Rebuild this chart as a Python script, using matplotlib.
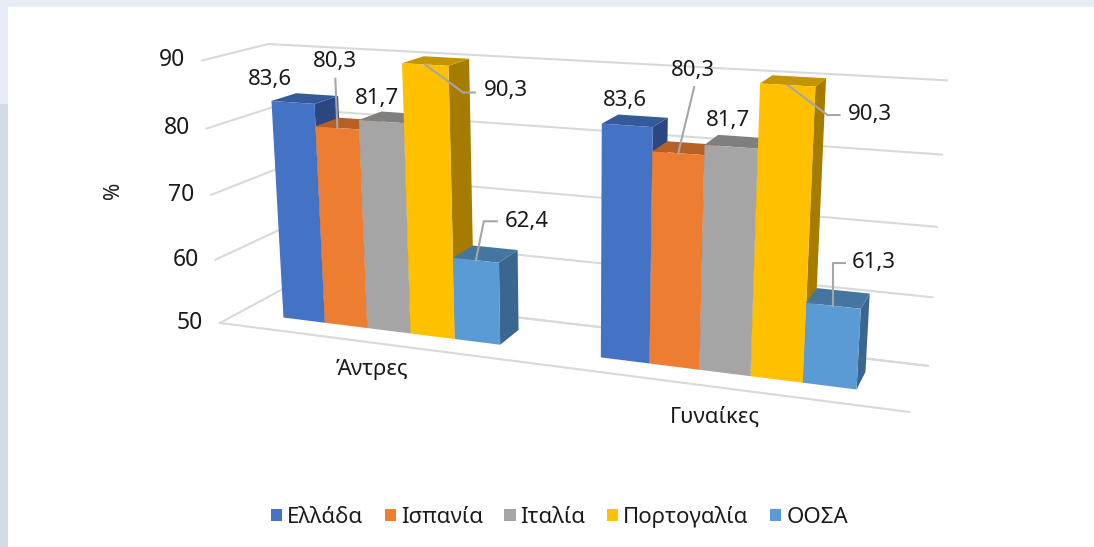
import matplotlib
matplotlib.use('Agg')
import matplotlib.pyplot as plt
from matplotlib.patches import Patch, Polygon, Rectangle
import numpy as np

plt.rcParams['font.family'] = ['Noto Sans', 'DejaVu Sans']

categories = ['Άντρες', 'Γυναίκες']
series_names = ['Ελλάδα', 'Ισπανία', 'Ιταλία', 'Πορτογαλία', 'ΟΟΣΑ']
men_values = [83.6, 80.3, 81.7, 90.3, 62.4]
women_values = [83.6, 80.3, 81.7, 90.3, 61.3]
y_ticks = [50, 60, 70, 80, 90]

front_colors = ['#4472C4', '#ED7D31', '#A5A5A5', '#FFC000', '#5B9BD5']
top_colors = ['#355A9A', '#B85F24', '#7F7F7F', '#C49500', '#44769F']
side_colors = ['#2B4680', '#A0521F', '#6E6E6E', '#A67C00', '#3A6690']
text_color = '#1A1A1A'
grid_color = '#D9D9D9'
leader_color = '#A6A6A6'

# camera fit: (along axis, depth, value) -> pixel in the 1094x547 image
camera_world = [(0, 0, 50), (0, 0, 60), (0, 0, 70), (0, 0, 80), (0, 0, 90),
                (0, 1, 50), (0, 1, 90),
                (1, 1, 50), (1, 1, 60), (1, 1, 70), (1, 1, 80), (1, 1, 90),
                (1, 0, 50),
                (0.075, 0.31, 50), (0.075, 0.31, 83.6),
                (0.925, 0.31, 50), (0.425, 0.31, 50),
                (0.575, 0.31, 83.6), (0.285, 0.31, 90.3), (0.785, 0.31, 90.3),
                (0.355, 0.31, 90.3), (0.855, 0.31, 90.3),
                (0.355, 0.31, 62.4), (0.425, 0.31, 62.4)]
camera_pixels = [(220, 323), (216, 260), (211, 194), (207, 128), (202, 59),
                 (283, 291), (268, 43),
                 (928, 366), (932, 297), (937, 227), (942, 154), (947, 79),
                 (911, 412),
                 (283, 318), (272, 101),
                 (856, 389), (499, 344),
                 (603, 123), (402, 65), (760, 85),
                 (448, 67), (815, 88),
                 (453, 258), (498, 262)]


def fit_camera(world, pixels):
    rows = []
    for (u, v, val), (px, py) in zip(world, pixels):
        w = (val - 50) / 40
        x, y = px / 1000, py / 1000
        rows.append([u, v, w, 1, 0, 0, 0, 0, -x * u, -x * v, -x * w, -x])
        rows.append([0, 0, 0, 0, u, v, w, 1, -y * u, -y * v, -y * w, -y])
    vt = np.linalg.svd(np.array(rows))[2]
    return vt[-1].reshape(3, 4)


camera = fit_camera(camera_world, camera_pixels)


def project(u, v, val):
    p = camera @ np.array([u, v, (val - 50) / 40, 1])
    return p[0] / p[2] * 1000, p[1] / p[2] * 1000


fig = plt.figure(figsize=(10.94, 5.47), dpi=100, facecolor='white')
ax = fig.add_axes([0, 0, 1, 1])
ax.set_xlim(0, 1094)
ax.set_ylim(547, 0)
ax.axis('off')

# page strips behind the chart
ax.add_patch(Rectangle((0, 0), 1094, 7, color='#E8EDF5', lw=0))
ax.add_patch(Rectangle((0, 0), 8, 104, color='#E8EDF5', lw=0))
ax.add_patch(Rectangle((0, 104), 8, 443, color='#D3DCE4', lw=0))

# walls and floor
for val in y_ticks:
    ax.plot(*zip(project(0, 0, val), project(0, 1, val), project(1, 1, val)),
            color=grid_color, lw=1.5, zorder=1)
    x, y = project(0, 0, val)
    ax.text(x - 17, y, str(val), ha='right', va='center', fontsize=16.5, color=text_color)
ax.plot(*zip(project(0, 0, 50), project(1, 0, 50)), color=grid_color, lw=1.5, zorder=1)
ax.plot(*zip(project(0, 1, 50), project(1, 1, 50)), color=grid_color, lw=1.5, zorder=1)

ax.text(114, 190, '%', rotation=90, ha='center', va='center', fontsize=15, color=text_color)

# bars, left to right so each one covers the side of the previous
bar_width = 0.07
depth_front = 0.31
depth_back = 0.70
group_starts = [0.075, 0.575]
z = 2
for start, values in zip(group_starts, [men_values, women_values]):
    for i, val in enumerate(values):
        u0 = start + i * bar_width
        u1 = u0 + bar_width
        side = [project(u1, depth_front, 50), project(u1, depth_back, 50),
                project(u1, depth_back, val), project(u1, depth_front, val)]
        top = [project(u0, depth_front, val), project(u1, depth_front, val),
               project(u1, depth_back, val), project(u0, depth_back, val)]
        front = [project(u0, depth_front, 50), project(u1, depth_front, 50),
                 project(u1, depth_front, val), project(u0, depth_front, val)]
        ax.add_patch(Polygon(side, closed=True, fc=side_colors[i], ec='none', zorder=z))
        ax.add_patch(Polygon(top, closed=True, fc=top_colors[i], ec='none', zorder=z))
        ax.add_patch(Polygon(front, closed=True, fc=front_colors[i], ec='none', zorder=z))
        z += 1

# data labels: text offset and leader elbows are relative to the top front edge of the bar
label_layout = [
    [((-23, -23), []), ((-2, -66), [(-2, -49)]), ((-4, -23), []),
     ((81, 26), [(38, 28), (50, 28)]), ((51, -39), [(8, -39), (21, -39)])],
    [((-2, -25), []), ((15, -83), [(16, -66)]), ((-3, -26), []),
     ((82, 29), [(40, 30), (52, 30)]), ((40, -43), [(0, -43), (12, -43)])],
]
for g, (start, values) in enumerate(zip(group_starts, [men_values, women_values])):
    for i, val in enumerate(values):
        ax_x, ax_y = project(start + (i + 0.5) * bar_width, depth_front, val)
        offset, elbows = label_layout[g][i]
        if elbows:
            pts = [(ax_x, ax_y)] + [(ax_x + dx, ax_y + dy) for dx, dy in elbows]
            ax.plot(*zip(*pts), color=leader_color, lw=1.5, zorder=20)
        ax.text(ax_x + offset[0], ax_y + offset[1], f'{val:.1f}'.replace('.', ','),
                ha='center', va='center', fontsize=16, color=text_color, zorder=21)

ax.text(372, 369.5, categories[0], ha='center', va='center', fontsize=16, color=text_color)
ax.text(715, 417, categories[1], ha='center', va='center', fontsize=16, color=text_color)

handles = [Patch(facecolor=c, label=n) for c, n in zip(front_colors, series_names)]
ax.legend(handles=handles, loc='center', bbox_to_anchor=(559.5 / 1094, 1 - 517 / 547), ncol=5,
          frameon=False, fontsize=16, labelcolor=text_color, handlelength=0.5, handleheight=0.5,
          handletextpad=0.23, columnspacing=0.96, borderpad=0)

fig.savefig('out.png', dpi=100, facecolor='white')
plt.close()
